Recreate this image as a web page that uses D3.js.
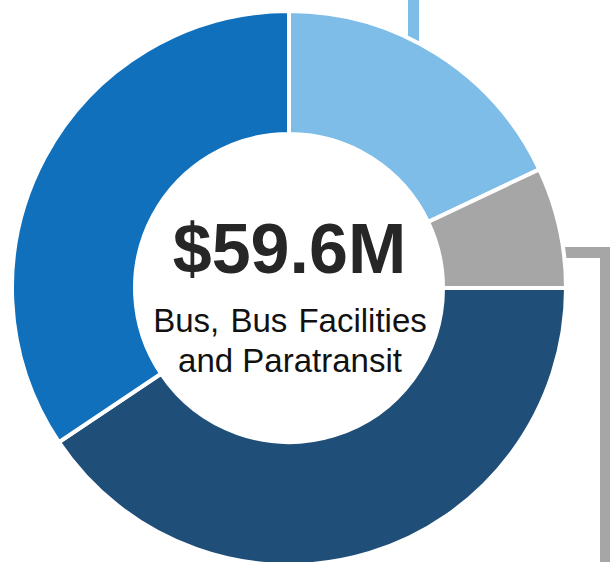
<!DOCTYPE html>
<html>
<head>
<meta charset="utf-8">
<script src="https://cdn.jsdelivr.net/npm/d3@7"></script>
<style>
  html, body { margin: 0; padding: 0; background: #ffffff; }
  svg { display: block; }
</style>
</head>
<body>
<svg id="chart" width="610" height="562"></svg>
<script>
// Funding split (in $M), clockwise from twelve o'clock
const categories = ["Share A", "Share B", "Share C", "Share D"];
const values = [10.7, 4.2, 24.2, 20.5];
const colors = ["#7DBDE8", "#A6A6A6", "#1F4E79", "#1070BC"];
const subtitleLines = ["Bus, Bus Facilities", "and Paratransit"];

const width = 610, height = 562;
const cx = 289, cy = 288;
const outerR = 277, innerR = 154;

const svg = d3.select("#chart");

// Leader lines that run off toward labels outside the frame (drawn under the ring)
const leaders = svg.append("g");
leaders.append("path")
  .attr("d", `M413.5,-5 V ${cy - 200}`)
  .attr("fill", "none")
  .attr("stroke", colors[0])
  .attr("stroke-width", 11);
leaders.append("path")
  .attr("d", `M ${cx + outerR - 20},252.5 H 605.5 V ${height + 10}`)
  .attr("fill", "none")
  .attr("stroke", colors[1])
  .attr("stroke-width", 11)
  .attr("stroke-linejoin", "miter");

const pie = d3.pie().sort(null).value(d => d.value);
const arc = d3.arc().innerRadius(innerR).outerRadius(outerR);

const data = categories.map((c, i) => ({ name: c, value: values[i], color: colors[i] }));

const ring = svg.append("g").attr("transform", `translate(${cx},${cy})`);
ring.selectAll("path")
  .data(pie(data))
  .join("path")
  .attr("d", arc)
  .attr("fill", d => d.data.color)
  .attr("stroke", "#ffffff")
  .attr("stroke-width", 4)
  .attr("stroke-linejoin", "miter");

// Centre label: total and caption
const total = d3.sum(values);
const font = "'Liberation Sans', Arial, Helvetica, sans-serif";

svg.append("text")
  .attr("x", cx + 0.5)
  .attr("y", 273)
  .attr("text-anchor", "middle")
  .attr("font-family", font)
  .attr("font-weight", "bold")
  .attr("font-size", 70)
  .attr("fill", "#262626")
  .text(`$${total.toFixed(1)}M`);

svg.append("g")
  .selectAll("text")
  .data(subtitleLines)
  .join("text")
  .attr("x", cx + 1)
  .attr("y", (d, i) => 332 + i * 40)
  .attr("text-anchor", "middle")
  .attr("font-family", font)
  .attr("font-size", 33)
  .attr("word-spacing", (d, i) => i === 0 ? 2 : 0)
  .attr("fill", "#111111")
  .text(d => d);
</script>
</body>
</html>
